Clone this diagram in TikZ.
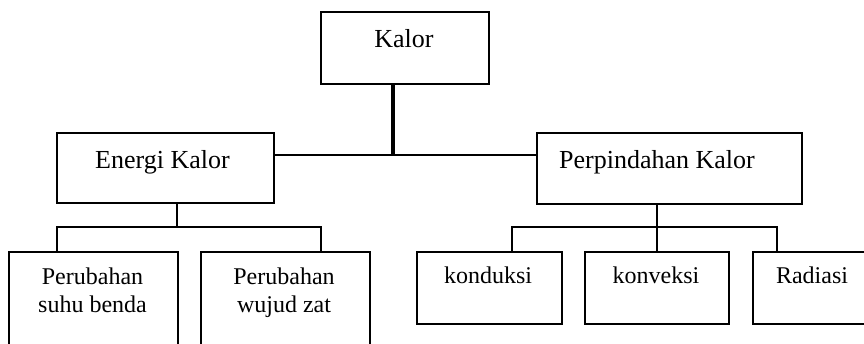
\documentclass[tikz,border=0pt]{standalone}
\usepackage{fontspec}
\setmainfont{Liberation Serif}
\begin{document}
\begin{tikzpicture}[x=0.75pt,y=-0.75pt,
  box/.style={draw, line width=1.25pt, inner sep=0pt, anchor=north west},
  big/.style={anchor=base, inner sep=0pt, font=\fontsize{19.5}{23}\selectfont},
  small/.style={anchor=base, inner sep=0pt, font=\fontsize{18}{21}\selectfont, align=center},
  thick line/.style={line width=2.4pt},
  mid line/.style={line width=1.5pt},
  thin line/.style={line width=1.15pt}]
\useasboundingbox (0,0) rectangle (864,343);
\clip (0,0) rectangle (864,343);
% boxes
\node[box, minimum width=126pt, minimum height=54pt] (kalor) at (320,11) {};
\node[box, minimum width=162.75pt, minimum height=52.5pt] (energi) at (56,132) {};
\node[box, minimum width=198.75pt, minimum height=53.25pt] (perp) at (536,132) {};
\node[box, minimum width=126.75pt, minimum height=97.5pt] (pb1) at (8,251) {};
\node[box, minimum width=126.75pt, minimum height=97.5pt] (pb2) at (200,251) {};
\node[box, minimum width=108.75pt, minimum height=54pt] (kond) at (416,251) {};
\node[box, minimum width=108pt, minimum height=54pt] (konv) at (584,251) {};
\node[box, minimum width=90pt, minimum height=54pt] (rad) at (752,251) {};
% texts
\node[big] at (404,47) {Kalor};
\node[big] at (162.5,168) {Energi Kalor};
\node[big] at (657,168) {Perpindahan Kalor};
\node[small] at (92.5,312) {Perubahan\\suhu benda};
\node[small] at (284,312) {Perubahan\\wujud zat};
\node[small] at (488,283) {konduksi};
\node[small] at (656,283) {konveksi};
\node[small] at (812,283) {Radiasi};
% connector points
\coordinate (hub) at (393,155);
\coordinate (eh) at (177,227);
\coordinate (el) at (57,227);
\coordinate (er) at (321,227);
\coordinate (ph) at (657,227);
\coordinate (pl) at (512,227);
\coordinate (pr) at (777,227);
% connectors
\draw[thick line] (kalor.south -| hub) -- (hub);
\draw[mid line] (energi.east |- hub) -- (perp.west |- hub);
\draw[thin line] (energi.south -| eh) -- (eh);
\draw[thin line] (pb1.north -| el) -- (el) -- (er) -- (pb2.north -| er);
\draw[thin line] (perp.south -| ph) -- (konv.north -| ph);
\draw[thin line] (kond.north -| pl) -- (pl) -- (pr) -- (rad.north -| pr);
\end{tikzpicture}
\end{document}
